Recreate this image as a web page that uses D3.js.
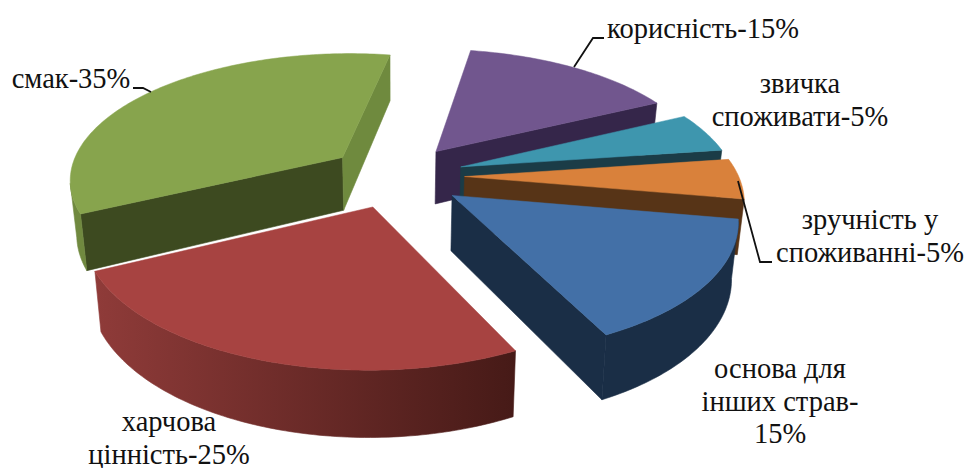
<!DOCTYPE html>
<html><head><meta charset="utf-8">
<style>html,body{margin:0;padding:0;background:#fff}svg{display:block}text{font-family:"Liberation Serif",serif;fill:#111}</style>
<script src="https://cdn.jsdelivr.net/npm/d3@7/dist/d3.min.js"></script></head>
<body><svg id="c" width="968" height="468"></svg>
<script>
const categories=["корисність","звичка споживати","зручність у споживанні","основа для інших страв","харчова цінність","смак"];
const values=[15,5,5,15,25,35];
const topColors=["#71568e","#3e96ae","#d9813b","#4370a7","#a74341","#87a44d"];
const wallColors=["#35264a","#1b3c47","#573417","#1a2e46","#4a1b18","#3d4a20"];
const arcColorsA=["#35264a","#1b3c47","#8a5a28","#1a2e46","#461a17","#70893f"];
const arcColorsB=["#35264a","#1b3c47","#8a5a28","#1a2e46","#8f3b39","#70893f"];
const endWallColors=["#35264a","#1b3c47","#573417","#1a2e46","#4a1b18","#6f8a3e"];
const drawOrder=[0,1,2,3,5,4];
const labels=[
 {lines:["смак-35%"],x:71,y:88},
 {lines:["корисність-15%"],x:703,y:38},
 {lines:["звичка","споживати-5%"],x:800,y:93},
 {lines:["зручність у","споживанні-5%"],x:870,y:229},
 {lines:["основа для","інших страв-","15%"],x:780,y:378},
 {lines:["харчова","цінність-25%"],x:169,y:431}
];
const leaders=[
 [[133,88],[143,88],[151,92]],
 [[604,38],[593,38],[574,67]],
 [[738,181],[760,262],[772,262]]
];
const cx=396,cy=176,A=274,B=126,p=0.16,explode=0.25,depth=54,shrink=0.98,start=10*Math.PI/180;

function proj(X,Y,h){
  const w=1-p*Y;
  return [cx+A*X/w*(h?shrink:1), cy+(B*Y+(h?depth:0))/w];
}
const svg=d3.select("#c");
const defs=svg.append("defs");
const pie=d3.pie().sort(null).startAngle(start).endAngle(start+2*Math.PI);
const arcs=pie(values);
const line=d3.line();
drawOrder.forEach(i=>{
  const a=arcs[i],m=(a.startAngle+a.endAngle)/2;
  const ox=explode*Math.sin(m),oy=-explode*Math.cos(m);
  const n=Math.ceil((a.endAngle-a.startAngle)/(Math.PI/180));
  const ang=d3.range(n+1).map(k=>a.startAngle+(a.endAngle-a.startAngle)*k/n);
  const pt=(t,h)=>proj(ox+Math.sin(t),oy-Math.cos(t),h);
  const apex=h=>proj(ox,oy,h);
  const g=svg.append("g");
  const quad=(pts,c)=>g.append("path").attr("d",line(pts)+"Z").attr("fill",c).attr("stroke",c).attr("stroke-width",0.6);
  if(pt(ang[0],0)[0]<apex(0)[0]) quad([apex(0),pt(ang[0],0),pt(ang[0],1),apex(1)],wallColors[i]);
  // outer wall: the part of the rim that faces the viewer, as one path
  const facing=ang.filter((t,k)=>k<n?pt(ang[k+1],0)[0]<pt(t,0)[0]:pt(t,0)[0]<pt(ang[k-1],0)[0]);
  if(facing.length>1){
    const xs=facing.map(t=>pt(t,0)[0]);
    const id="rim"+i;
    const gr=defs.append("linearGradient").attr("id",id).attr("gradientUnits","userSpaceOnUse")
      .attr("x1",d3.max(xs)).attr("x2",d3.min(xs)).attr("y1",0).attr("y2",0);
    gr.append("stop").attr("offset",0).attr("stop-color",arcColorsA[i]);
    gr.append("stop").attr("offset",1).attr("stop-color",arcColorsB[i]);
    quad([...facing.map(t=>pt(t,0)),...facing.slice().reverse().map(t=>pt(t,1))],"url(#"+id+")");
  }
  if(apex(0)[0]<pt(ang[n],0)[0]) quad([pt(ang[n],0),apex(0),apex(1),pt(ang[n],1)],endWallColors[i]);
  g.append("path").attr("d",line([apex(0),...ang.map(t=>pt(t,0))])+"Z").attr("fill",topColors[i]).attr("stroke",topColors[i]).attr("stroke-width",0.5);
});
leaders.forEach(l=>svg.append("path").attr("d",line(l)).attr("fill","none").attr("stroke","#111").attr("stroke-width",1.8));
labels.forEach(l=>{
  const t=svg.append("text").attr("text-anchor","middle").attr("font-size",28.5);
  l.lines.forEach((s,j)=>t.append("tspan").attr("x",l.x).attr("y",l.y+j*32.5).text(s));
});
</script></body></html>
